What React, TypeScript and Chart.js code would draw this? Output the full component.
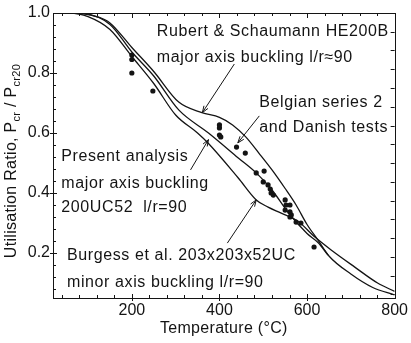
import React, { useEffect, useRef } from "react";
import { Chart, registerables } from "chart.js";

Chart.register(...registerables);

// ---- Axis ticks ----
const xTicks = [200, 400, 600, 800];
const yTicks = [0.2, 0.4, 0.6, 0.8, 1.0];

// ---- Curves (temperature °C, utilisation ratio) ----
const rubertT = [20, 80, 120, 150, 200, 250, 307, 360, 400, 430, 460, 490, 520, 550, 575, 600, 625, 650, 700, 750, 800];
const rubertU = [1.0, 1.0, 0.988, 0.967, 0.885, 0.805, 0.703, 0.668, 0.652, 0.627, 0.587, 0.533, 0.477, 0.415, 0.36, 0.295, 0.243, 0.19, 0.13, 0.085, 0.06];

const presentT = [20, 90, 150, 200, 250, 307, 375, 443, 484, 520, 557, 600, 625, 648];
const presentU = [1.0, 0.997, 0.962, 0.87, 0.79, 0.677, 0.6, 0.517, 0.467, 0.41, 0.335, 0.265, 0.235, 0.193];

const burgessT = [20, 60, 100, 150, 200, 250, 300, 350, 375, 443, 484, 511, 541, 580, 618, 655, 709, 761, 800];
const burgessU = [1.0, 1.0, 0.988, 0.945, 0.855, 0.765, 0.66, 0.6, 0.565, 0.45, 0.377, 0.353, 0.333, 0.305, 0.253, 0.21, 0.153, 0.1, 0.072];

// ---- Test data (Belgian series 2 and Danish tests etc.) ----
const testT = [200, 200, 200, 248, 400, 400, 400, 403, 439, 459, 484, 502, 500, 511, 516, 518, 523, 550, 552, 561, 550, 561, 564, 561, 575, 586, 616];
const testU = [0.86, 0.845, 0.8, 0.74, 0.627, 0.617, 0.593, 0.587, 0.553, 0.533, 0.467, 0.473, 0.437, 0.427, 0.413, 0.4, 0.393, 0.377, 0.36, 0.36, 0.343, 0.337, 0.327, 0.32, 0.303, 0.3, 0.22];

// ---- Annotations (text in data coordinates: left x, centre y) ----
const labelTexts = [
  "Rubert & Schaumann HE200B",
  "major axis buckling l/r\u224890",
  "Belgian series 2",
  "and Danish tests",
  "Present analysis",
  "major axis buckling",
  "200UC52  l/r=90",
  "Burgess et al. 203x203x52UC",
  "minor axis buckling l/r=90",
];
const labelX = [257, 257, 491, 491, 39, 39, 39, 52, 52];
const labelY = [0.937, 0.853, 0.70, 0.617, 0.52, 0.433, 0.353, 0.19, 0.103];

// arrows: from (x1,y1) to (x2,y2) in data units
const arrowX1 = [434, 491, 334, 418];
const arrowY1 = [0.83, 0.657, 0.477, 0.233];
const arrowX2 = [361, 442, 375, 484];
const arrowY2 = [0.668, 0.567, 0.578, 0.377];

const FONT = '"Liberation Sans", Arial, Helvetica, sans-serif';
const INK = "#141414";

const zip = (xs: number[], ys: number[]) => xs.map((x, i) => ({ x, y: ys[i] }));

const decorPlugin = {
  id: "decor",
  afterDraw(chart: any) {
    const { ctx, chartArea: ca, scales } = chart;
    const xs = scales.x;
    const ys = scales.y;
    ctx.save();
    ctx.strokeStyle = INK;
    ctx.fillStyle = INK;
    ctx.lineWidth = 1;

    // frame
    ctx.strokeRect(Math.round(ca.left) + 0.5, Math.round(ca.top) + 0.5, Math.round(ca.right - ca.left), Math.round(ca.bottom - ca.top));

    ctx.beginPath();
    // x ticks (bottom & top)
    for (let v = 40; v < 800; v += 40) {
      const px = Math.round(xs.getPixelForValue(v)) + 0.5;
      const major = v % 200 === 0;
      if (major) {
        ctx.moveTo(px, ca.bottom + 3);
        ctx.lineTo(px, ca.bottom - 4);
        ctx.moveTo(px, ca.top);
        ctx.lineTo(px, ca.top + 5);
      } else {
        ctx.moveTo(px, ca.bottom);
        ctx.lineTo(px, ca.bottom - 3);
        ctx.moveTo(px, ca.top);
        ctx.lineTo(px, ca.top + 3);
      }
    }
    // left y ticks
    for (let k = 2; k < 25; k++) {
      const v = k * 0.04;
      const py = Math.round(ys.getPixelForValue(v)) + 0.5;
      const major = k % 5 === 0;
      if (major) {
        ctx.moveTo(ca.left - 3, py);
        ctx.lineTo(ca.left + 4, py);
      } else {
        ctx.moveTo(ca.left, py);
        ctx.lineTo(ca.left + 3, py);
      }
    }
    // right y ticks
    for (let k = 1; k < 16; k++) {
      const v = 1 - k * 0.0625;
      const py = Math.round(ys.getPixelForValue(v)) + 0.5;
      ctx.moveTo(ca.right, py);
      ctx.lineTo(ca.right - 4, py);
    }
    ctx.stroke();

    // annotation texts
    ctx.font = `16px ${FONT}`;
    (ctx as any).letterSpacing = "0.6px";
    ctx.textAlign = "left";
    ctx.textBaseline = "middle";
    labelTexts.forEach((t, i) => {
      ctx.fillText(t, xs.getPixelForValue(labelX[i]), ys.getPixelForValue(labelY[i]));
    });

    // arrows
    ctx.lineWidth = 1;
    arrowX1.forEach((_, i) => {
      const x1 = xs.getPixelForValue(arrowX1[i]);
      const y1 = ys.getPixelForValue(arrowY1[i]);
      const x2 = xs.getPixelForValue(arrowX2[i]);
      const y2 = ys.getPixelForValue(arrowY2[i]);
      const a = Math.atan2(y2 - y1, x2 - x1);
      const h = 7;
      ctx.beginPath();
      ctx.moveTo(x1, y1);
      ctx.lineTo(x2, y2);
      ctx.moveTo(x2 - h * Math.cos(a - 0.35), y2 - h * Math.sin(a - 0.35));
      ctx.lineTo(x2, y2);
      ctx.lineTo(x2 - h * Math.cos(a + 0.35), y2 - h * Math.sin(a + 0.35));
      ctx.stroke();
    });

    // x axis title
    (ctx as any).letterSpacing = "0.3px";
    ctx.textAlign = "center";
    ctx.textBaseline = "middle";
    ctx.fillText("Temperature (\u00B0C)", (ca.left + ca.right) / 2, 329);

    // y axis title with subscripts
    const segs = [
      { t: "Utilisation Ratio, P", f: 16, dy: 0 },
      { t: "cr", f: 11, dy: 3.5 },
      { t: " / P", f: 16, dy: 0 },
      { t: "cr20", f: 11, dy: 3.5 },
    ];
    ctx.textAlign = "left";
    ctx.textBaseline = "alphabetic";
    let total = 0;
    segs.forEach((s) => {
      ctx.font = `${s.f}px ${FONT}`;
      total += ctx.measureText(s.t).width;
    });
    ctx.translate(16, 161);
    ctx.rotate(-Math.PI / 2);
    let cx = -total / 2;
    segs.forEach((s) => {
      ctx.font = `${s.f}px ${FONT}`;
      ctx.fillText(s.t, cx, s.dy);
      cx += ctx.measureText(s.t).width;
    });
    ctx.restore();
  },
};

export default function App() {
  const ref = useRef<HTMLCanvasElement | null>(null);

  useEffect(() => {
    document.body.style.margin = "0";
    const canvas = ref.current;
    if (!canvas) return;
    const lineStyle = {
      showLine: true,
      borderColor: INK,
      borderWidth: 1.3,
      pointRadius: 0,
      fill: false,
      cubicInterpolationMode: "monotone" as const,
    };
    const chart = new Chart(canvas, {
      type: "scatter",
      data: {
        datasets: [
          { label: "Rubert & Schaumann", data: zip(rubertT, rubertU), ...lineStyle },
          { label: "Present analysis", data: zip(presentT, presentU), ...lineStyle },
          { label: "Burgess et al.", data: zip(burgessT, burgessU), ...lineStyle },
          {
            label: "Tests",
            data: zip(testT, testU),
            pointRadius: 2.6,
            pointBackgroundColor: INK,
            pointBorderWidth: 0,
            showLine: false,
          },
        ],
      },
      options: {
        responsive: false,
        animation: false,
        devicePixelRatio: 1,
        layout: { padding: { top: 13, right: 14, left: 0, bottom: 0 } },
        plugins: { legend: { display: false }, tooltip: { enabled: false } },
        scales: {
          x: {
            type: "linear",
            min: 20,
            max: 800,
            afterBuildTicks: (s: any) => {
              s.ticks = xTicks.map((v) => ({ value: v }));
            },
            afterFit: (s: any) => {
              s.height = 45;
            },
            grid: { display: false, drawTicks: false },
            border: { display: false },
            ticks: {
              padding: 3,
              maxRotation: 0,
              autoSkip: false,
              color: INK,
              font: { family: FONT, size: 16 },
              callback: (v: any) => String(v),
            },
          },
          y: {
            type: "linear",
            min: 0.05,
            max: 1.0,
            afterBuildTicks: (s: any) => {
              s.ticks = yTicks.map((v) => ({ value: v }));
            },
            afterFit: (s: any) => {
              s.width = 53;
            },
            grid: { display: false, drawTicks: false },
            border: { display: false },
            ticks: {
              padding: 3,
              autoSkip: false,
              color: INK,
              font: { family: FONT, size: 16 },
              callback: (v: any) => Number(v).toFixed(1),
            },
          },
        },
      },
      plugins: [decorPlugin],
    });
    return () => chart.destroy();
  }, []);

  return <canvas ref={ref} width={411} height={343} style={{ display: "block" }} />;
}
